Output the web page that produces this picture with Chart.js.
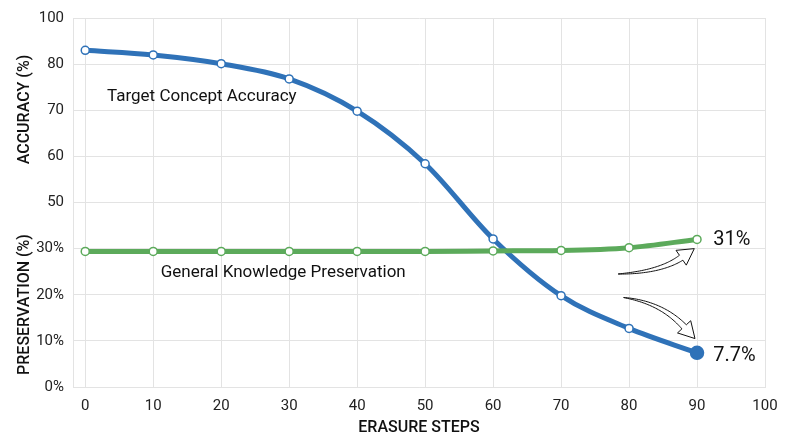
<!DOCTYPE html>
<html>
<head>
    <title>Erasure Steps</title>
    <script src="https://cdn.jsdelivr.net/npm/chart.js"></script>
    <style>
        body {
            margin: 0;
            background: #fff;
        }
        #wrap {
            width: 800px;
            height: 447px;
        }
    </style>
</head>
<body>
    <div id="wrap"><canvas id="eraseChart"></canvas></div>

    <script>
        // x categories
        const steps = [0, 10, 20, 30, 40, 50, 60, 70, 80, 90];
        // values as plotted on the shared axis (one grid step = 10 units)
        const accuracy = [73.0, 72.0, 70.1, 66.8, 59.8, 48.4, 32.1, 19.8, 12.7, 7.4];
        const preservation = [29.4, 29.4, 29.4, 29.4, 29.4, 29.4, 29.5, 29.6, 30.2, 32.0];
        // the axis labels printed on the picture
        const yTickLabels = ['0%', '10%', '20%', '30%', '50', '60', '70', '80', '100'];
        const xTickValues = [0, 10, 20, 30, 40, 50, 60, 70, 80, 90, 100];

        const BLUE = '#2f72b8';
        const GREEN = '#5caa5b';
        const FONT = 'Roboto, "Noto Sans", sans-serif';

        function toPoints(vals) {
            return steps.map((s, i) => ({ x: s, y: vals[i] }));
        }

        // annotation text, in data units
        const notes = [
            { text: 'Target Concept Accuracy', x: 3.2, y: 63.0, size: 17 },
            { text: 'General Knowledge Preservation', x: 11.1, y: 24.7, size: 17 },
            { text: '31%', x: 92.4, y: 31.9, size: 20 },
            { text: '7.7%', x: 92.4, y: 6.7, size: 20 }
        ];
        // curved arrows: tail, control, tip (data units)
        const arrows = [
            { tail: [78.4, 24.5], ctrl: [84.6, 24.9], tip: [89.6, 30.0] },
            { tail: [79.2, 19.4], ctrl: [84.8, 18.3], tip: [89.7, 10.5] }
        ];

        function hollowArrow(ctx, p0, c, tip) {
            const shaft = 6, headLen = 16, headW = 18;
            let dx = tip.x - c.x, dy = tip.y - c.y;
            const d = Math.hypot(dx, dy);
            dx /= d; dy /= d;
            const base = { x: tip.x - dx * headLen, y: tip.y - dy * headLen };
            const left = [], right = [];
            const N = 40;
            for (let i = 0; i <= N; i++) {
                const t = i / N, u = 1 - t;
                const px = u * u * p0.x + 2 * u * t * c.x + t * t * base.x;
                const py = u * u * p0.y + 2 * u * t * c.y + t * t * base.y;
                let tx = 2 * u * (c.x - p0.x) + 2 * t * (base.x - c.x);
                let ty = 2 * u * (c.y - p0.y) + 2 * t * (base.y - c.y);
                const tl = Math.hypot(tx, ty);
                tx /= tl; ty /= tl;
                const w = shaft / 2 * Math.pow(t, 0.8);
                left.push([px - ty * w, py + tx * w]);
                right.push([px + ty * w, py - tx * w]);
            }
            const nx = -dy, ny = dx;
            ctx.beginPath();
            ctx.moveTo(left[0][0], left[0][1]);
            left.forEach(p => ctx.lineTo(p[0], p[1]));
            ctx.lineTo(base.x + nx * headW / 2, base.y + ny * headW / 2);
            ctx.lineTo(tip.x, tip.y);
            ctx.lineTo(base.x - nx * headW / 2, base.y - ny * headW / 2);
            for (let i = right.length - 1; i >= 0; i--) ctx.lineTo(right[i][0], right[i][1]);
            ctx.closePath();
            ctx.fillStyle = '#fff';
            ctx.fill();
            ctx.strokeStyle = '#111';
            ctx.lineWidth = 1;
            ctx.stroke();
        }

        const extras = {
            id: 'extras',
            afterDatasetsDraw(chart) {
                const ctx = chart.ctx;
                const xs = chart.scales.x, ys = chart.scales.y;
                ctx.save();
                ctx.fillStyle = '#111';
                ctx.textBaseline = 'middle';
                ctx.textAlign = 'left';
                notes.forEach(n => {
                    ctx.font = n.size + 'px ' + FONT;
                    ctx.fillText(n.text, xs.getPixelForValue(n.x), ys.getPixelForValue(n.y));
                });
                arrows.forEach(a => {
                    const pt = v => ({ x: xs.getPixelForValue(v[0]), y: ys.getPixelForValue(v[1]) });
                    hollowArrow(ctx, pt(a.tail), pt(a.ctrl), pt(a.tip));
                });
                // the two y axis titles
                ctx.fillStyle = '#111';
                ctx.font = '500 16px ' + FONT;
                ctx.textAlign = 'center';
                const titles = [['ACCURACY (%)', 109.5], ['PRESERVATION (%)', 304.5]];
                titles.forEach(t => {
                    ctx.save();
                    ctx.translate(25, t[1]);
                    ctx.rotate(-Math.PI / 2);
                    ctx.fillText(t[0], 0, 0);
                    ctx.restore();
                });
                ctx.restore();
            }
        };

        const ctx = document.getElementById('eraseChart').getContext('2d');

        const eraseChart = new Chart(ctx, {
            type: 'line',
            data: {
                datasets: [
                    {
                        label: 'General Knowledge Preservation',
                        data: toPoints(preservation),
                        borderColor: GREEN,
                        borderWidth: 5,
                        cubicInterpolationMode: 'monotone',
                        pointRadius: 4,
                        pointBorderWidth: 1.5,
                        pointBackgroundColor: '#fff',
                        pointBorderColor: GREEN,
                        clip: false
                    },
                    {
                        label: 'Target Concept Accuracy',
                        data: toPoints(accuracy),
                        borderColor: BLUE,
                        borderWidth: 5,
                        cubicInterpolationMode: 'monotone',
                        pointRadius: steps.map((s, i) => i === steps.length - 1 ? 6.5 : 4),
                        pointBorderWidth: 1.5,
                        pointBackgroundColor: steps.map((s, i) => i === steps.length - 1 ? BLUE : '#fff'),
                        pointBorderColor: BLUE,
                        clip: false
                    }
                ]
            },
            options: {
                responsive: true,
                maintainAspectRatio: false,
                animation: false,
                layout: { padding: { top: 18, right: 35, bottom: 9, left: 0 } },
                plugins: {
                    legend: { display: false },
                    tooltip: { enabled: false }
                },
                scales: {
                    x: {
                        type: 'linear',
                        min: -1.8,
                        max: 100,
                        afterBuildTicks: axis => {
                            axis.ticks = xTickValues.map(v => ({ value: v }));
                        },
                        afterFit: axis => { axis.height = 51; },
                        grid: { color: '#e3e3e3', drawTicks: false },
                        border: { color: '#e3e3e3' },
                        ticks: {
                            padding: 10,
                            color: '#222',
                            font: { family: FONT, size: 15 }
                        },
                        title: {
                            display: true,
                            text: 'ERASURE STEPS',
                            color: '#111',
                            padding: { top: 4, bottom: 0 },
                            font: { family: FONT, size: 16, weight: '500' }
                        }
                    },
                    y: {
                        min: 0,
                        max: 80,
                        afterFit: axis => { axis.width = 73; },
                        grid: { color: '#e3e3e3', drawTicks: false },
                        border: { color: '#e3e3e3' },
                        ticks: {
                            stepSize: 10,
                            padding: 9,
                            color: '#222',
                            font: { family: FONT, size: 15 },
                            callback: v => yTickLabels[Math.round(v / 10)]
                        }
                    }
                }
            },
            plugins: [extras]
        });
    </script>
</body>
</html>
